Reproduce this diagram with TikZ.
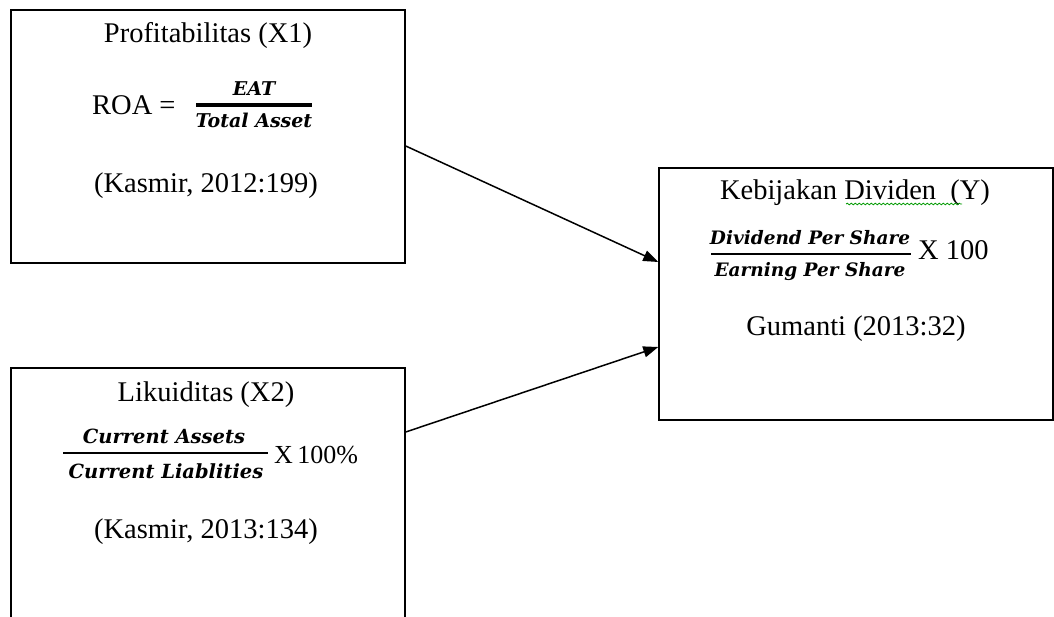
\documentclass[tikz,border=0pt]{standalone}
\usepackage{fontspec}
\setmainfont{Liberation Serif}
\newfontfamily\fracfont{DejaVu Serif}
\usetikzlibrary{arrows.meta,decorations.pathmorphing}
\begin{document}
\begin{tikzpicture}[x=1pt,y=-1pt,
  box/.style={draw, line width=1.5pt, minimum width=394pt, minimum height=253pt, inner sep=0pt},
  txt/.style={font=\fontsize{28.5}{34}\selectfont, anchor=base, inner sep=0pt},
  frc/.style={font=\fracfont\bfseries\itshape\fontsize{18.5}{22}\selectfont, anchor=base, inner sep=0pt},
  fracrule/.style={line width=1.5pt},
  conn/.style={line width=1.5pt, -{Triangle[length=15pt,width=11pt]}}]
\clip (0,0) rectangle (1054,617);
% boxes
\node[box] (b1) at (208,136.5) {};
\node[box, minimum height=282pt] (b2) at (208,509) {};
\node[box, minimum height=252pt] (b3) at (856,294) {};
% box 1
\node[txt] (t1) at (208,43) {Profitabilitas (X1)};
\node[txt, anchor=base west] (roa) at (92,115) {ROA =};
\node[frc, font=\fracfont\bfseries\itshape\fontsize{19}{22}\selectfont] (n1) at (254,96) {EAT};
\node[frc, font=\fracfont\bfseries\itshape\fontsize{19}{22}\selectfont] (d1) at (254,128) {Total Asset};
\draw[fracrule, line width=3.5pt] (196,105) -- (312,105);
\node[txt] (k1) at (206,193) {(Kasmir, 2012:199)};
% box 2
\node[txt] (t2) at (206,401) {Likuiditas (X2)};
\node[frc, font=\fracfont\bfseries\itshape\fontsize{19.5}{22}\selectfont] (n2) at (164,443) {Current Assets};
\node[frc, font=\fracfont\bfseries\itshape\fontsize{19.5}{22}\selectfont] (d2) at (166,478) {Current Liablities};
\draw[fracrule] (63,453) -- (268,453);
\node[txt, anchor=base west, font=\fontsize{26}{30}\selectfont] (x2) at (274,463) {X\,100\%};
\node[txt] (k2) at (206,538) {(Kasmir, 2013:134)};
% box 3
\node[txt] (t3) at (855,200) {Kebijakan Dividen\ \ (Y)};
\node[frc] (n3) at (810,245) {Dividend Per Share};
\node[frc] (d3) at (810,277) {Earning Per Share};
\draw[fracrule] (711,254) -- (911,254);
\node[txt, anchor=base west] (x3) at (918,260) {X 100};
\node[txt] (g3) at (856,335) {Gumanti (2013:32)};
\draw[green!60!black, decorate, decoration={snake, amplitude=0.8pt, segment length=4pt}, line width=0.8pt] (846,204) -- (962,204);
% connectors
\draw[conn] ([yshift=-9.5pt]b1.east) -- ([yshift=32pt]b3.west);
\draw[conn] ([yshift=77pt]b2.east) -- ([yshift=-53pt]b3.west);
\end{tikzpicture}
\end{document}
